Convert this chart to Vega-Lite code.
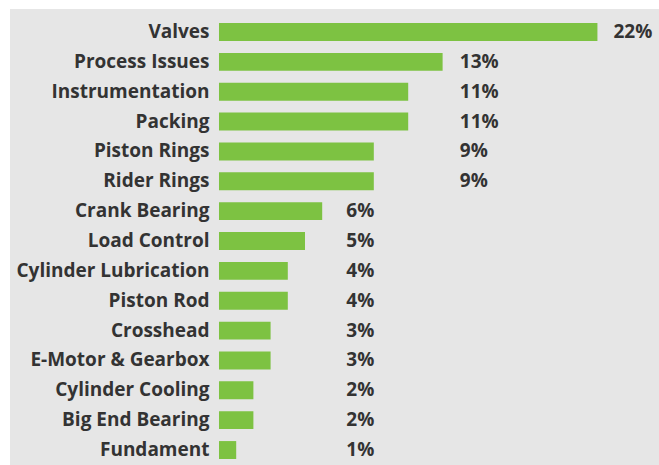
{
  "$schema": "https://vega.github.io/schema/vega-lite/v6.json",
  "autosize": {"type": "none"},
  "padding": {"left": 10, "top": 9, "right": 0, "bottom": 0},
  "width": 649,
  "height": 456,
  "background": "#ffffff",
  "config": {"view": {"stroke": null, "fill": "#e6e6e6"}},
  "data": {
    "values": [
      {"cause": "Valves", "value": 22},
      {"cause": "Process Issues", "value": 13},
      {"cause": "Instrumentation", "value": 11},
      {"cause": "Packing", "value": 11},
      {"cause": "Piston Rings", "value": 9},
      {"cause": "Rider Rings", "value": 9},
      {"cause": "Crank Bearing", "value": 6},
      {"cause": "Load Control", "value": 5},
      {"cause": "Cylinder Lubrication", "value": 4},
      {"cause": "Piston Rod", "value": 4},
      {"cause": "Crosshead", "value": 3},
      {"cause": "E-Motor & Gearbox", "value": 3},
      {"cause": "Cylinder Cooling", "value": 2},
      {"cause": "Big End Bearing", "value": 2},
      {"cause": "Fundament", "value": 1}
    ]
  },
  "transform": [{"calculate": "datum.value + '%'", "as": "label"}],
  "encoding": {
    "y": {
      "field": "cause",
      "type": "nominal",
      "sort": null,
      "scale": {"paddingInner": 0.4, "paddingOuter": 0.336, "align": 0.7},
      "axis": {
        "title": null,
        "ticks": false,
        "domain": false,
        "offset": -209,
        "labelPadding": 10,
        "labelFont": "Open Sans",
        "labelFontWeight": "bold",
        "labelFontSize": 19,
        "labelColor": "#333333",
        "labelLimit": 300
      }
    }
  },
  "layer": [
    {
      "mark": {"type": "bar", "color": "#7dc242"},
      "encoding": {
        "x": {"field": "value", "type": "quantitative", "scale": {"domain": [-12.15, 25.58], "nice": false, "zero": false}, "axis": null}
      }
    },
    {
      "transform": [{"filter": "datum.value > 15"}],
      "mark": {"type": "text", "align": "left", "baseline": "middle", "dx": 16, "font": "Open Sans", "fontWeight": "bold", "fontSize": 19, "color": "#333333"},
      "encoding": {
        "x": {"field": "value", "type": "quantitative"},
        "text": {"field": "label", "type": "nominal"}
      }
    },
    {
      "transform": [{"filter": "datum.value >= 9 && datum.value <= 15"}],
      "mark": {"type": "text", "align": "left", "baseline": "middle", "font": "Open Sans", "fontWeight": "bold", "fontSize": 19, "color": "#333333"},
      "encoding": {
        "x": {"datum": 14},
        "text": {"field": "label", "type": "nominal"}
      }
    },
    {
      "transform": [{"filter": "datum.value < 9"}],
      "mark": {"type": "text", "align": "left", "baseline": "middle", "font": "Open Sans", "fontWeight": "bold", "fontSize": 19, "color": "#333333"},
      "encoding": {
        "x": {"datum": 7.4},
        "text": {"field": "label", "type": "nominal"}
      }
    }
  ]
}
